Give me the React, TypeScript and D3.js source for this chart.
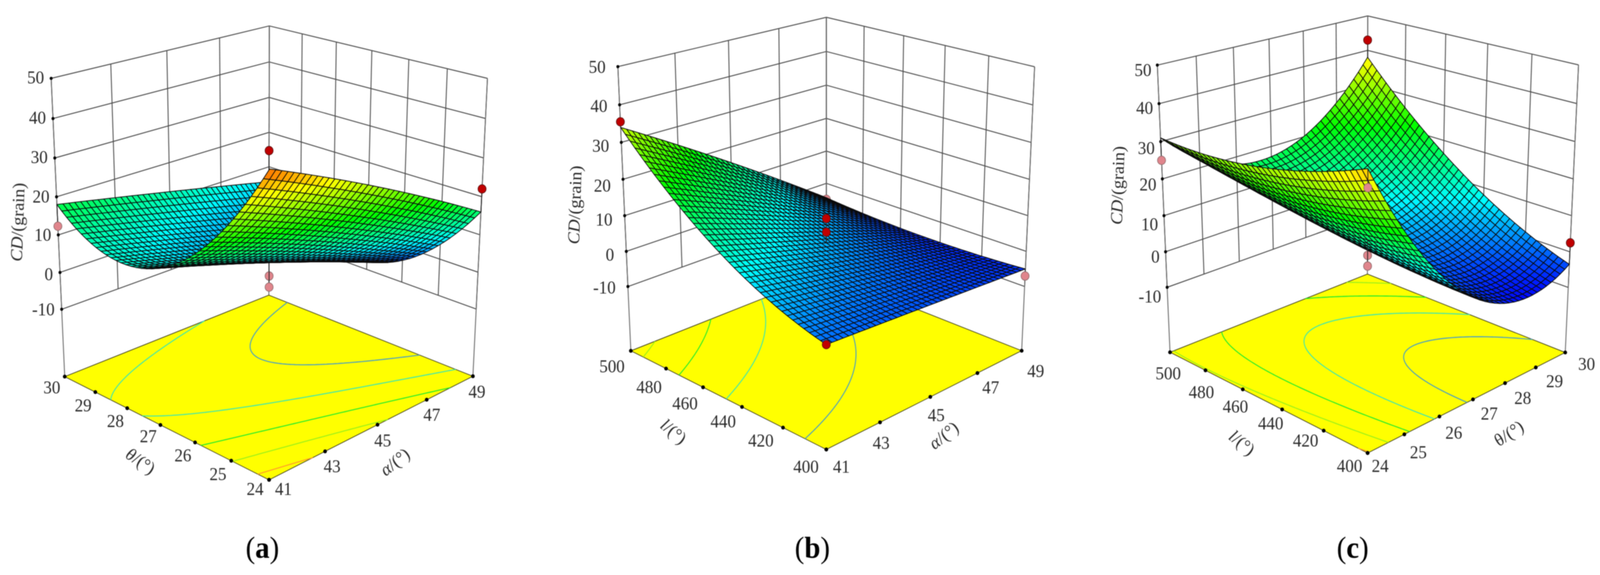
import React from "react";
import * as d3 from "d3";

// ---- values ----
const cdTicks = [50, 40, 30, 20, 10, 0, -10];
const thetaTicks = [24, 25, 26, 27, 28, 29, 30];
const alphaTicks = [41, 43, 45, 47, 49];
const lengthTicks = [400, 420, 440, 460, 480, 500];
const contourLevels = [0, 10, 20, 30, 40];
const contourColors = ["#4a9ec4", "#3fe6b0", "#2aec2a", "#9cf01a", "#ff9d2a"];

// CD read at start / middle / end of each axis: rows follow the right axis, columns the left axis
const surfaceA = [
  [45, 11.8, 18],
  [31.5, 2.6, 12],
  [16, -7.7, 5.6],
];
const surfaceB = [
  [-1.5, 10.7, 34],
  [-3.2, 2.4, 15.5],
  [-5, -6, -4.5],
];
const surfaceC = [
  [41, 32.4, 31],
  [-1.4, 3.3, 17.1],
  [-3.5, 11.9, 38],
];

// design points: left-axis value, right-axis value, CD, above the surface?, drawn over the surface?
const pointsA: [number, number, number, boolean, boolean][] = [
  [30, 49, 14.7, true, false],
  [27, 45, -1, false, false],
  [27, 45, -4, false, false],
  [30, 41, 12.3, false, true],
  [24, 49, 22, true, true],
];
const pointsB: [number, number, number, boolean, boolean][] = [
  [500, 49, -5, false, false],
  [450, 45, 9.2, true, true],
  [450, 45, 5.4, true, true],
  [400, 41, -1.5, true, true],
  [500, 41, 35.5, true, true],
  [400, 49, -7, false, true],
];
const pointsC: [number, number, number, boolean, boolean][] = [
  [500, 30, 43, true, true],
  [400, 24, 36.6, false, true],
  [450, 27, -1, false, false],
  [450, 27, -4, false, true],
  [400, 30, 2.5, true, true],
  [500, 24, 25, false, true],
];

// ---- layout ----
const FONT = "'Liberation Serif','Times New Roman',serif";
type XY = [number, number];

const panelLayouts = [
  {
    surface: surfaceA, points: pointsA, caption: "a",
    leftTicks: thetaTicks, rightTicks: alphaTicks,
    leftName: ["θ", "/(°)"], rightName: ["α", "/(°)"],
    corners: { front: [729, 1230], left: [175, 964], right: [1281, 963], back: [729, 757], leftTop: [139, 201], rightTop: [1321, 201], backTop: [729, 66] },
    leftOff: [[-38, 23], [-36, 34], [-33, 33], [-33, 29], [-32, 33], [-33, 34], [-35, 28]],
    rightOff: [[39, 23], [19, 38], [14, 41], [14, 39], [11, 40]],
    cdDx: -19, cdDy: [-2, -2, -2, -1, 0, 5, 0],
    leftTitle: [381, 1181, 33], rightTitle: [1070, 1183, -37], cdTitle: [48, 569], captionAt: [711, 1402],
  },
  {
    surface: surfaceB, points: pointsB, caption: "b",
    leftTicks: lengthTicks, rightTicks: alphaTicks,
    leftName: ["l", "/(°)"], rightName: ["α", "/(°)"],
    corners: { front: [2239, 1152], left: [1709, 898], right: [2768, 898], back: [2239, 701], leftTop: [1674, 171], rightTop: [2803, 171], backTop: [2239, 44] },
    leftOff: [[-55, 44], [-60, 33], [-51, 37], [-49, 41], [-46, 47], [-51, 40]],
    rightOff: [[41, 44], [3, 53], [16, 47], [36, 37], [38, 52]],
    cdDx: -33, cdDy: [1, 3, 9, 16, 10, 9, 3],
    leftTitle: [1825, 1105, 38], rightTitle: [2557, 1115, -37], cdTitle: [1557, 525], captionAt: [2201, 1402],
  },
  {
    surface: surfaceC, points: pointsC, caption: "c",
    leftTicks: lengthTicks, rightTicks: thetaTicks,
    leftName: ["l", "/(°)"], rightName: ["θ", "/(°)"],
    corners: { front: [3705, 1162], left: [3170, 901], right: [4241, 901], back: [3705, 704], leftTop: [3136, 167], rightTop: [4277, 167], backTop: [3705, 40] },
    leftOff: [[-49, 33], [-49, 25], [-31, 36], [-20, 44], [-11, 56], [-5, 54]],
    rightOff: [[34, 33], [38, 46], [39, 42], [44, 36], [48, 38], [51, 35], [58, 30]],
    cdDx: -16, cdDy: [13, 11, 17, 14, 22, 13, 24],
    leftTitle: [3365, 1134, 38], rightTitle: [4088, 1110, -32], cdTitle: [3028, 475], captionAt: [3665, 1402],
  },
];

const MESH = 40;
const FINE = 81;
const FLOOR_CD = -28.7;

const cdToHeight = d3.scaleLinear().domain([FLOOR_CD, 50]).range([0, 1]);
const cdColor = d3
  .scaleLinear<string>()
  .domain([-8, 7, 22, 37, 50])
  .range(["#0000ff", "#00ffff", "#00ff00", "#ffff00", "#ff0000"])
  .clamp(true);

// camera: least-squares 3x4 projection through the seven visible box corners
function fitCamera(c: any) {
  const pairs: [number[], number[]][] = [
    [[0, 0, 0], c.front], [[1, 0, 0], c.left], [[0, 1, 0], c.right], [[1, 1, 0], c.back],
    [[1, 0, 1], c.leftTop], [[0, 1, 1], c.rightTop], [[1, 1, 1], c.backTop],
  ];
  const rows: number[][] = [];
  const rhs: number[] = [];
  pairs.forEach(([[a, b, h], [x, y]]) => {
    rows.push([a, b, h, 1, 0, 0, 0, 0, -x * a, -x * b, -x * h]); rhs.push(x);
    rows.push([0, 0, 0, 0, a, b, h, 1, -y * a, -y * b, -y * h]); rhs.push(y);
  });
  const n = 11;
  const M = d3.range(n).map((i) => [
    ...d3.range(n).map((j) => d3.sum(rows, (r) => r[i] * r[j])),
    d3.sum(rows, (r, k) => r[i] * rhs[k]),
  ]);
  for (let i = 0; i < n; i++) {
    let p = i;
    for (let k = i + 1; k < n; k++) if (Math.abs(M[k][i]) > Math.abs(M[p][i])) p = k;
    [M[i], M[p]] = [M[p], M[i]];
    for (let k = 0; k < n; k++) {
      if (k === i) continue;
      const f = M[k][i] / M[i][i];
      for (let j = i; j <= n; j++) M[k][j] -= f * M[i][j];
    }
  }
  const q = d3.range(n).map((i) => M[i][n] / M[i][i]);
  return (t: number, s: number, h: number) => {
    const w = q[8] * t + q[9] * s + q[10] * h + 1;
    return [
      (q[0] * t + q[1] * s + q[2] * h + q[3]) / w,
      (q[4] * t + q[5] * s + q[6] * h + q[7]) / w,
      w,
    ];
  };
}

// smooth surface through the read grid (Lagrange weights on the grid's nodes)
function surfaceAt(grid: number[][], t: number, s: number) {
  const weights = (x: number, m: number) =>
    d3.range(m).map((i) => {
      let v = 1;
      for (let k = 0; k < m; k++) if (k !== i) v *= (x * (m - 1) - k) / (i - k);
      return v;
    });
  const wt = weights(t, grid[0].length);
  const ws = weights(s, grid.length);
  let sum = 0;
  ws.forEach((a, j) => wt.forEach((b, i) => (sum += a * b * grid[j][i])));
  return sum;
}

const linePath = d3.line();
const closedPath = d3.line().curve(d3.curveLinearClosed);

function Panel({ p }: { p: (typeof panelLayouts)[number] }) {
  const cam = fitCamera(p.corners);
  const tScale = d3.scaleLinear().domain(d3.extent(p.leftTicks) as XY).range([0, 1]);
  const sScale = d3.scaleLinear().domain(d3.extent(p.rightTicks) as XY).range([0, 1]);
  const xy = (t: number, s: number, h: number): XY => {
    const r = cam(t, s, h);
    return [r[0], r[1]];
  };
  const hTop = 1;
  const hLow = cdToHeight(-10);

  const walls: string[] = [];
  p.rightTicks.forEach((v) => {
    const s = sScale(v);
    walls.push(linePath([xy(1, s, hLow), xy(1, s, hTop)])!);
  });
  p.leftTicks.forEach((v) => {
    const t = tScale(v);
    walls.push(linePath([xy(t, 1, hLow), xy(t, 1, hTop)])!);
  });
  cdTicks.forEach((v) => {
    const h = cdToHeight(v);
    walls.push(linePath([xy(1, 0, h), xy(1, 1, h), xy(0, 1, h)])!);
  });
  const edges = [
    [xy(1, 0, 0), xy(1, 0, 1)],
    [xy(1, 1, 0), xy(1, 1, 1)],
    [xy(0, 1, 0), xy(0, 1, 1)],
  ];

  const floor = [xy(0, 0, 0), xy(1, 0, 0), xy(1, 1, 0), xy(0, 1, 0)];

  // contour lines on the floor
  const fine = new Array(FINE * FINE);
  for (let j = 0; j < FINE; j++)
    for (let i = 0; i < FINE; i++) fine[i + j * FINE] = surfaceAt(p.surface, i / (FINE - 1), j / (FINE - 1));
  const contourSets = d3.contours().size([FINE, FINE]).thresholds(contourLevels)(fine);
  const onBorder = (a: number[], b: number[]) =>
    (a[0] <= 0.5 && b[0] <= 0.5) || (a[0] >= FINE - 0.5 && b[0] >= FINE - 0.5) ||
    (a[1] <= 0.5 && b[1] <= 0.5) || (a[1] >= FINE - 0.5 && b[1] >= FINE - 0.5);
  const toFloor = (q: number[]) =>
    xy(Math.min(1, Math.max(0, (q[0] - 0.5) / (FINE - 1))), Math.min(1, Math.max(0, (q[1] - 0.5) / (FINE - 1))), 0);
  const contourPaths: { d: string; color: string }[] = [];
  contourSets.forEach((set, k) => {
    set.coordinates.forEach((poly) =>
      poly.forEach((ring) => {
        let d = "";
        for (let i = 1; i < ring.length; i++) {
          if (onBorder(ring[i - 1], ring[i])) continue;
          d += linePath([toFloor(ring[i - 1]), toFloor(ring[i])]);
        }
        if (d) contourPaths.push({ d, color: contourColors[k] });
      })
    );
  });

  // mesh cells, far ones first
  const cells: { d: string; fill: string; w: number }[] = [];
  for (let j = 0; j < MESH; j++) {
    for (let i = 0; i < MESH; i++) {
      const quad = [[i, j], [i + 1, j], [i + 1, j + 1], [i, j + 1]].map(([a, b]) => {
        const cd = surfaceAt(p.surface, a / MESH, b / MESH);
        return { r: cam(a / MESH, b / MESH, cdToHeight(cd)), cd };
      });
      cells.push({
        d: closedPath(quad.map((c) => [c.r[0], c.r[1]] as XY))!,
        fill: cdColor(d3.mean(quad, (c) => c.cd)!),
        w: d3.mean(quad, (c) => c.r[2])!,
      });
    }
  }
  cells.sort((a, b) => b.w - a.w);

  const mark = (pt: (typeof p.points)[number], key: number) => {
    const t = tScale(pt[0]);
    const s = sScale(pt[1]);
    const [x, y] = xy(t, s, cdToHeight(pt[2]));
    const stem = xy(t, s, cdToHeight(surfaceAt(p.surface, t, s)));
    return (
      <g key={key}>
        <path d={linePath([stem, [x, y]])!} stroke="#222" strokeWidth={2.2} fill="none" />
        <circle cx={x} cy={y} r={11} fill={pt[3] ? "#c00000" : "#e0858c"} stroke={pt[3] ? "#5a1010" : "#8c6a6a"} strokeWidth={1.6} />
      </g>
    );
  };

  const [c0, c1] = p.cdTitle;
  return (
    <g fontFamily={FONT} fill="#2a2a2a">
      <g stroke="#4a4a4a" strokeWidth={2.4} fill="none">
        {walls.map((d, i) => <path key={i} d={d} />)}
        {edges.map((e, i) => <path key={i} d={linePath(e as XY[])!} stroke="#666" />)}
      </g>
      <path d={closedPath(floor)!} fill="#ffff00" stroke="#4a4a20" strokeWidth={2} />
      <g fill="none" strokeWidth={2.6}>
        {contourPaths.map((c, i) => <path key={i} d={c.d} stroke={c.color} />)}
      </g>
      {p.points.map((pt, i) => (pt[4] ? null : mark(pt, i)))}
      <g stroke="#0a0a0a" strokeWidth={2} strokeLinejoin="round">
        {cells.map((c, i) => <path key={i} d={c.d} fill={c.fill} />)}
      </g>
      {p.points.map((pt, i) => (pt[4] ? mark(pt, i) : null))}

      {p.leftTicks.map((v, i) => {
        const [x, y] = xy(tScale(v), 0, 0);
        const [dx, dy] = p.leftOff[i];
        return (
          <g key={"l" + v}>
            <circle cx={x} cy={y} r={5} fill="#000" />
            <text x={x + dx} y={y + dy} fontSize={46} textAnchor="middle" dominantBaseline="central">{v}</text>
          </g>
        );
      })}
      {p.rightTicks.map((v, i) => {
        const [x, y] = xy(0, sScale(v), 0);
        const [dx, dy] = p.rightOff[i];
        return (
          <g key={"r" + v}>
            <circle cx={x} cy={y} r={5} fill="#000" />
            <text x={x + dx} y={y + dy} fontSize={46} textAnchor="middle" dominantBaseline="central">{v}</text>
          </g>
        );
      })}
      {cdTicks.map((v, i) => {
        const [x, y] = xy(1, 0, cdToHeight(v));
        return (
          <g key={"z" + v}>
            <circle cx={x} cy={y} r={4} fill="#000" />
            <text x={x + p.cdDx} y={y + p.cdDy[i]} fontSize={46} textAnchor="end" dominantBaseline="central">{v}</text>
          </g>
        );
      })}
      <text transform={`translate(${p.leftTitle[0]},${p.leftTitle[1]}) rotate(${p.leftTitle[2]})`} fontSize={46} textAnchor="middle" dominantBaseline="central">
        <tspan fontStyle="italic">{p.leftName[0]}</tspan>{p.leftName[1]}
      </text>
      <text transform={`translate(${p.rightTitle[0]},${p.rightTitle[1]}) rotate(${p.rightTitle[2]})`} fontSize={46} textAnchor="middle" dominantBaseline="central">
        <tspan fontStyle={p.caption === "c" ? "normal" : "italic"}>{p.rightName[0]}</tspan>{p.rightName[1]}
      </text>
      <text transform={`translate(${c0},${c1}) rotate(-88)`} fontSize={46} textAnchor="middle" dominantBaseline="central">
        <tspan fontStyle="italic">CD</tspan>/(grain)
      </text>
      <text x={p.captionAt[0]} y={p.captionAt[1]} fontSize={78} fill="#000" textAnchor="middle" dominantBaseline="central">
        (<tspan fontWeight="bold">{p.caption}</tspan>)
      </text>
    </g>
  );
}

export default function App() {
  return (
    <svg viewBox="0 0 4335 1473" preserveAspectRatio="none" style={{ position: "fixed", left: 0, top: 0, width: "100vw", height: "100vh", display: "block", background: "#fff" }}>
      <rect width={4335} height={1473} fill="#fff" />
      <g style={{ filter: "blur(0.9px)" }}>
        {panelLayouts.map((p) => <Panel key={p.caption} p={p} />)}
      </g>
    </svg>
  );
}
